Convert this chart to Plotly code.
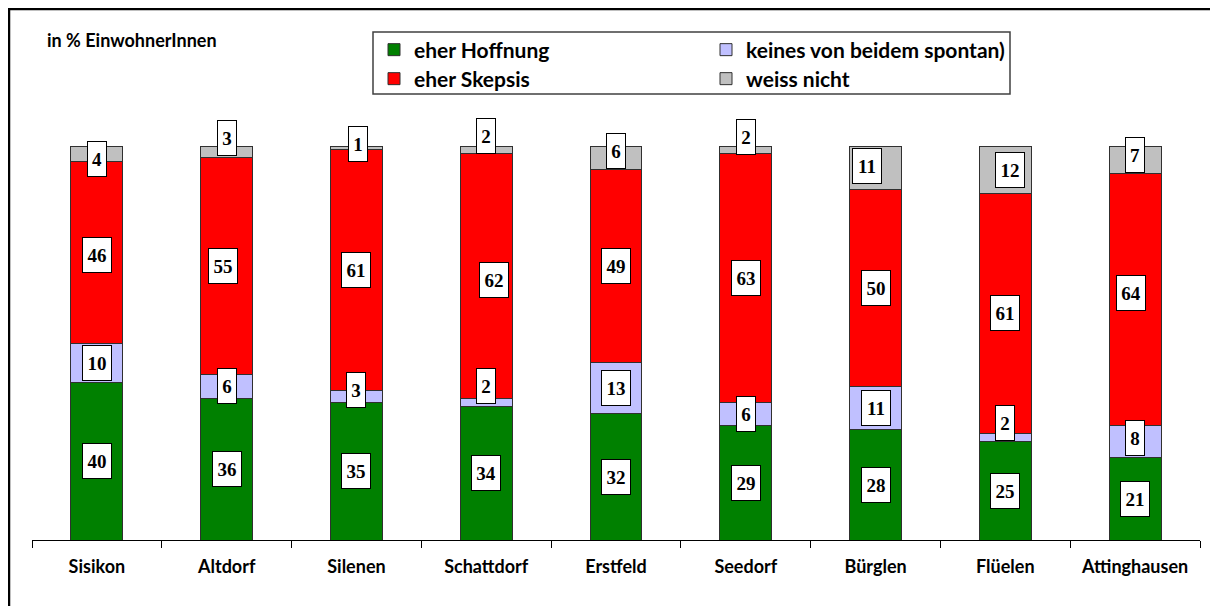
import plotly.graph_objects as go

# Gemeinden and answer shares (in % EinwohnerInnen)
gemeinden = ["Sisikon", "Altdorf", "Silenen", "Schattdorf", "Erstfeld",
             "Seedorf", "Bürglen", "Flüelen", "Attinghausen"]
hoffnung = [40, 36, 35, 34, 32, 29, 28, 25, 21]
keines = [10, 6, 3, 2, 13, 6, 11, 2, 8]
skepsis = [46, 55, 61, 62, 49, 63, 50, 61, 64]
weiss_nicht = [4, 3, 1, 2, 6, 2, 11, 12, 7]

series = [
    ("eher Hoffnung", hoffnung, "#008000", "legend"),
    ("keines von beidem spontan)", keines, "#C0C0FF", "legend2"),
    ("eher Skepsis", skepsis, "#FF0000", "legend3"),
    ("weiss nicht", weiss_nicht, "#C0C0C0", "legend4"),
]

# small nudges of the label boxes (px), as Excel placed them
nudge = {
    ("weiss nicht", "Sisikon"): (0, -5),
    ("weiss nicht", "Altdorf"): (0, 14),
    ("weiss nicht", "Silenen"): (2, 4),
    ("weiss nicht", "Schattdorf"): (0, 14),
    ("weiss nicht", "Erstfeld"): (0, 7),
    ("weiss nicht", "Seedorf"): (0, 13),
    ("weiss nicht", "Bürglen"): (-9, 2),
    ("weiss nicht", "Flüelen"): (5, 0),
    ("weiss nicht", "Attinghausen"): (0, 5),
    ("keines von beidem spontan)", "Silenen"): (0, 6),
    ("keines von beidem spontan)", "Schattdorf"): (0, 16),
    ("keines von beidem spontan)", "Flüelen"): (0, 15),
    ("keines von beidem spontan)", "Attinghausen"): (0, 4),
    ("eher Skepsis", "Schattdorf"): (8, -4),
    ("eher Skepsis", "Sisikon"): (0, -3),
    ("eher Skepsis", "Altdorf"): (-4, 0),
    ("eher Skepsis", "Attinghausen"): (-4, 7),
}

# page has an 8px body margin, so the plot area is placed in page pixels
W, H = 1218, 606
PAGE = 8
X0, X1, Y0, Y1 = 32, 1200, 146, 540  # plot area on the page
L, T = X0 - PAGE, Y0 - PAGE
R, B = W - (X1 - PAGE), H - (Y1 - PAGE)


def px_x(x):
    return (x - X0) / (X1 - X0)


def px_y(y):
    return (Y1 - y) / (Y1 - Y0)


sans = "Lato"
fig = go.Figure()
for name, vals, color, leg in series:
    fig.add_trace(go.Bar(
        x=gemeinden, y=vals, name=f"<b>{name}</b>", legend=leg,
        marker=dict(color=color, line=dict(color="#303030", width=1)),
        width=0.4, hoverinfo="x+y",
    ))

# value labels in white boxes
base = [0] * len(gemeinden)
for name, vals, color, leg in series:
    for i, (g, v) in enumerate(zip(gemeinden, vals)):
        dx, dy = nudge.get((name, g), (0, 0))
        fig.add_annotation(
            x=g, y=base[i] + v / 2, text=f"<b>{v}</b>", showarrow=False,
            font=dict(family="Liberation Serif", size=19, color="black"),
            bgcolor="white", bordercolor="black", borderwidth=1, borderpad=0,
            width=28 if v >= 10 else 18, height=34,
            xshift=dx, yshift=dy,
        )
        base[i] += v

fig.add_annotation(
    x=px_x(45), y=px_y(40), xref="paper", yref="paper", xanchor="left", yanchor="middle",
    text="<b>in % EinwohnerInnen</b>", showarrow=False,
    font=dict(family=sans, size=18, color="black"),
)

# legend frame and outer frame
fig.add_shape(type="rect", xref="paper", yref="paper",
              x0=px_x(373), x1=px_x(1010), y0=px_y(94), y1=px_y(32),
              line=dict(color="#404040", width=1.5), fillcolor="white", layer="below")
for x0, y0, x1, y1, col, lw in [
    (8, 9, 1216, 9, "black", 2.5),
    (9, 9, 9, 640, "black", 2.5),
    (1216, 9, 1216, 640, "#707070", 1.5),
]:
    fig.add_shape(type="line", xref="paper", yref="paper",
                  x0=px_x(x0), x1=px_x(x1), y0=px_y(y0), y1=px_y(y1),
                  line=dict(color=col, width=lw))

leg_style = dict(bgcolor="rgba(0,0,0,0)", borderwidth=0, xanchor="left", yanchor="middle",
                 font=dict(family=sans, size=21, color="black"), itemclick=False,
                 itemdoubleclick=False)
fig.update_layout(
    legend=dict(x=px_x(374), y=px_y(50), **leg_style),
    legend2=dict(x=px_x(706), y=px_y(50), **leg_style),
    legend3=dict(x=px_x(374), y=px_y(79), **leg_style),
    legend4=dict(x=px_x(706), y=px_y(79), **leg_style),
)

fig.update_xaxes(
    showline=True, linecolor="black", linewidth=1, ticks="outside", ticklen=7,
    tickcolor="black", tickson="boundaries", showgrid=False,
    tickfont=dict(family=sans, size=18, color="black"),
    tickprefix="<b>", ticksuffix="</b>", ticklabelstandoff=10,
)
fig.update_yaxes(visible=False, range=[0, 100], showgrid=False)
fig.update_layout(
    barmode="stack", width=W, height=H, showlegend=True,
    margin=dict(l=L, r=R, t=T, b=B),
    paper_bgcolor="white", plot_bgcolor="white",
)

fig.write_html("out.html")
